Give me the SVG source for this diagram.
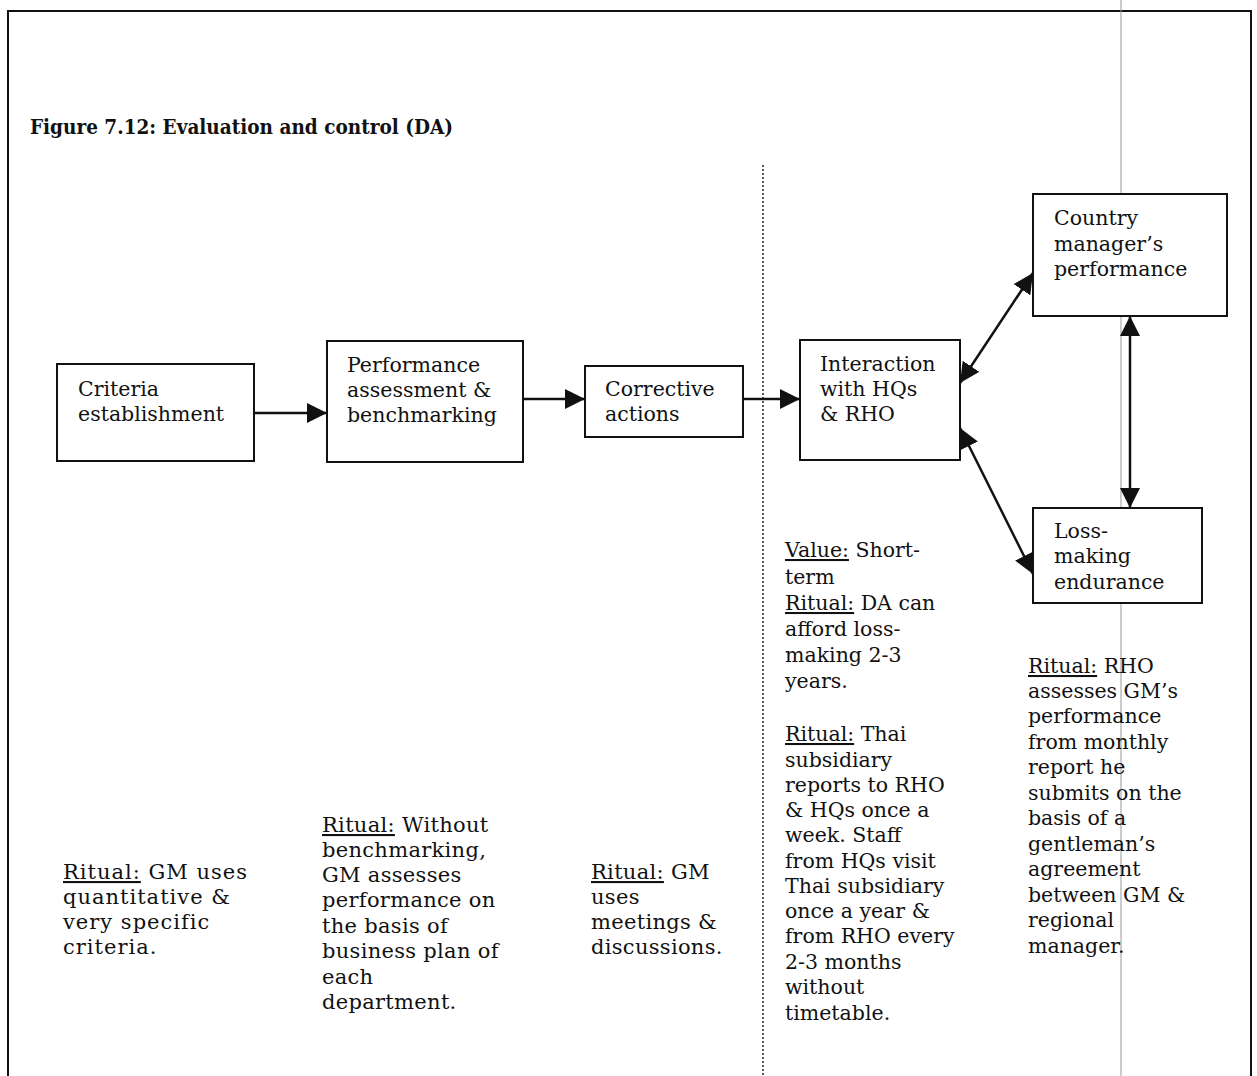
<svg xmlns="http://www.w3.org/2000/svg" width="1257" height="1076" viewBox="0 0 1257 1076">
<style>
.frame{fill:none;stroke:#111;stroke-width:2}
.box{fill:#fff;stroke:#111;stroke-width:2}
.t{font-family:"DejaVu Serif","Liberation Serif",serif;font-size:20.5px;fill:#111}
.n{font-family:"DejaVu Serif","Liberation Serif",serif;font-size:20.5px;fill:#111}
.n1{font-family:"DejaVu Serif","Liberation Serif",serif;font-size:21px;letter-spacing:1px;fill:#111}
.n2{font-family:"DejaVu Serif","Liberation Serif",serif;font-size:21px;letter-spacing:0.3px;fill:#111}
.title{font-family:"DejaVu Serif","Liberation Serif",serif;font-size:20px;font-weight:bold;fill:#111}
.u{text-decoration:underline}
.conn{stroke:#111;stroke-width:2.5;fill:none}
</style>
<defs>
<marker id="ah" markerUnits="userSpaceOnUse" markerWidth="22" markerHeight="22" refX="20" refY="10" orient="auto-start-reverse">
<path d="M0,0 L20,10 L0,20 Z" fill="#111"/>
</marker>
</defs>
<rect width="1257" height="1076" fill="#fff"/>
<path class="frame" d="M8,1076 L8,11 L1251,11 L1251,1076"/>
<line x1="763" y1="165" x2="763" y2="1076" stroke="#222" stroke-width="1.5" stroke-dasharray="2,2"/>
<line x1="1121" y1="0" x2="1121" y2="1076" stroke="#999" stroke-width="1"/>
<text class="title" x="30" y="134" textLength="423" lengthAdjust="spacingAndGlyphs">Figure 7.12: Evaluation and control (DA)</text>

<g id="connectors">
<line class="conn" x1="254" y1="413" x2="327" y2="413" marker-end="url(#ah)"/>
<line class="conn" x1="523" y1="399" x2="585" y2="399" marker-end="url(#ah)"/>
<line class="conn" x1="743" y1="399" x2="800" y2="399" marker-end="url(#ah)"/>
<line class="conn" x1="960" y1="383" x2="1033" y2="273" marker-start="url(#ah)" marker-end="url(#ah)"/>
<line class="conn" x1="960" y1="428" x2="1033" y2="574" marker-start="url(#ah)" marker-end="url(#ah)"/>
<line class="conn" x1="1130" y1="316" x2="1130" y2="508" marker-start="url(#ah)" marker-end="url(#ah)"/>
</g>

<g id="criteria">
<rect class="box" x="57" y="364" width="197" height="97"/>
<text class="t" x="78" y="396">Criteria</text>
<text class="t" x="78" y="421">establishment</text>
</g>
<g id="performance">
<rect class="box" x="327" y="341" width="196" height="121"/>
<text class="t" x="347" y="372">Performance</text>
<text class="t" x="347" y="397">assessment &amp;</text>
<text class="t" x="347" y="422">benchmarking</text>
</g>
<g id="corrective">
<rect class="box" x="585" y="366" width="158" height="71"/>
<text class="t" x="605" y="396">Corrective</text>
<text class="t" x="605" y="421">actions</text>
</g>
<g id="interaction">
<rect class="box" x="800" y="340" width="160" height="120"/>
<text class="t" x="820" y="371">Interaction</text>
<text class="t" x="820" y="396">with HQs</text>
<text class="t" x="820" y="421">&amp; RHO</text>
</g>
<g id="country">
<rect class="box" x="1033" y="194" width="194" height="122"/>
<text class="t" x="1054" y="225">Country</text>
<text class="t" x="1054" y="251">manager’s</text>
<text class="t" x="1054" y="276">performance</text>
</g>
<g id="loss">
<rect class="box" x="1033" y="508" width="169" height="95"/>
<text class="t" x="1054" y="538">Loss-</text>
<text class="t" x="1054" y="563">making</text>
<text class="t" x="1054" y="589">endurance</text>
</g>

<g id="notes">
<text class="n1" x="63" y="879"><tspan class="u">Ritual:</tspan> GM uses</text>
<text class="n1" x="63" y="904">quantitative  &amp;</text>
<text class="n1" x="63" y="929">very specific</text>
<text class="n1" x="63" y="954">criteria.</text>

<text class="n2" x="322" y="832"><tspan class="u">Ritual:</tspan> Without</text>
<text class="n2" x="322" y="857">benchmarking,</text>
<text class="n2" x="322" y="882">GM assesses</text>
<text class="n2" x="322" y="907">performance on</text>
<text class="n2" x="322" y="933">the basis of</text>
<text class="n2" x="322" y="958">business plan of</text>
<text class="n2" x="322" y="984">each</text>
<text class="n2" x="322" y="1009">department.</text>

<text class="n2" x="591" y="879"><tspan class="u">Ritual:</tspan> GM</text>
<text class="n2" x="591" y="904">uses</text>
<text class="n2" x="591" y="929">meetings &amp;</text>
<text class="n2" x="591" y="954">discussions.</text>

<text class="n" x="785" y="557"><tspan class="u">Value:</tspan> Short-</text>
<text class="n" x="785" y="584">term</text>
<text class="n" x="785" y="610"><tspan class="u">Ritual:</tspan> DA can</text>
<text class="n" x="785" y="636">afford loss-</text>
<text class="n" x="785" y="662">making 2-3</text>
<text class="n" x="785" y="688">years.</text>
<text class="n" x="785" y="741"><tspan class="u">Ritual:</tspan> Thai</text>
<text class="n" x="785" y="767">subsidiary</text>
<text class="n" x="785" y="792">reports to RHO</text>
<text class="n" x="785" y="817">&amp; HQs once a</text>
<text class="n" x="785" y="842">week. Staff</text>
<text class="n" x="785" y="868">from HQs visit</text>
<text class="n" x="785" y="893">Thai subsidiary</text>
<text class="n" x="785" y="918">once a year &amp;</text>
<text class="n" x="785" y="943">from RHO every</text>
<text class="n" x="785" y="969">2-3 months</text>
<text class="n" x="785" y="994">without</text>
<text class="n" x="785" y="1020">timetable.</text>

<text class="n" x="1028" y="673"><tspan class="u">Ritual:</tspan> RHO</text>
<text class="n" x="1028" y="698">assesses GM’s</text>
<text class="n" x="1028" y="723">performance</text>
<text class="n" x="1028" y="749">from monthly</text>
<text class="n" x="1028" y="774">report he</text>
<text class="n" x="1028" y="800">submits on the</text>
<text class="n" x="1028" y="825">basis of a</text>
<text class="n" x="1028" y="851">gentleman’s</text>
<text class="n" x="1028" y="876">agreement</text>
<text class="n" x="1028" y="902">between GM &amp;</text>
<text class="n" x="1028" y="927">regional</text>
<text class="n" x="1028" y="953">manager.</text>
</g>
</svg>
